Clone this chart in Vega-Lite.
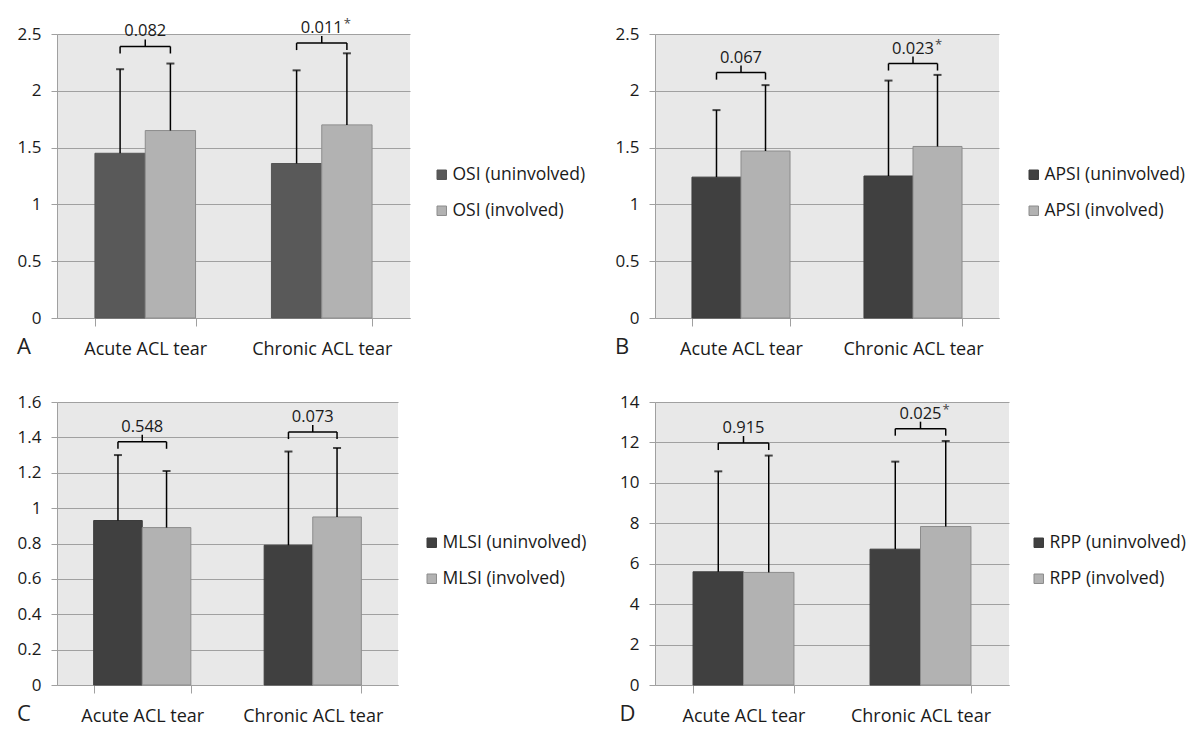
{
  "$schema": "https://vega.github.io/schema/vega-lite/v6.json",
  "background": "white",
  "padding": {"left": 17, "top": 18, "right": 0, "bottom": 2},
  "config": {
    "font": "Open Sans",
    "view": {"fill": "#e8e8e8", "stroke": null},
    "axis": {"domainColor": "#a0a0a0", "tickColor": "#a0a0a0", "labelColor": "#1a1a1a", "title": null, "domainWidth": 1},
    "axisY": {"grid": true, "gridColor": "#a0a0a0", "tickSize": 6, "labelFontSize": 17, "labelPadding": 10, "format": "~g", "tickCount": 10},
    "axisX": {"grid": false, "tickBand": "extent", "tickSize": 8, "labelFontSize": 18, "labelPadding": 14, "labelAngle": 0},
    "legend": {"orient": "none", "symbolType": "square", "symbolSize": 90, "labelFontSize": 17.5, "rowPadding": 17, "symbolStrokeColor": "#7f7f7f", "symbolStrokeWidth": 1, "labelOffset": 2, "padding": 0, "labelColor": "#1a1a1a"},
    "title": {"fontSize": 22, "fontWeight": "normal", "orient": "bottom", "anchor": "start", "frame": "bounds", "offset": -21, "dx": 0, "color": "#222222"}
  },
  "datasets": {
    "A_bars": [
      {"cat": "Acute ACL tear", "grp": "OSI (uninvolved)", "mean": 1.45, "err": 2.19, "b": 2.39},
      {"cat": "Acute ACL tear", "grp": "OSI (involved)", "mean": 1.65, "err": 2.24, "b": 2.39},
      {"cat": "Chronic ACL tear", "grp": "OSI (uninvolved)", "mean": 1.36, "err": 2.18, "b": 2.42},
      {"cat": "Chronic ACL tear", "grp": "OSI (involved)", "mean": 1.70, "err": 2.33, "b": 2.42}
    ],
    "A_p": [
      {"cat": "Acute ACL tear", "b": 2.39, "p": "0.082", "star": ""},
      {"cat": "Chronic ACL tear", "b": 2.42, "p": "0.011", "star": "*"}
    ],
    "B_bars": [
      {"cat": "Acute ACL tear", "grp": "APSI (uninvolved)", "mean": 1.24, "err": 1.83, "b": 2.16},
      {"cat": "Acute ACL tear", "grp": "APSI (involved)", "mean": 1.47, "err": 2.05, "b": 2.16},
      {"cat": "Chronic ACL tear", "grp": "APSI (uninvolved)", "mean": 1.25, "err": 2.09, "b": 2.24},
      {"cat": "Chronic ACL tear", "grp": "APSI (involved)", "mean": 1.51, "err": 2.14, "b": 2.24}
    ],
    "B_p": [
      {"cat": "Acute ACL tear", "b": 2.16, "p": "0.067", "star": ""},
      {"cat": "Chronic ACL tear", "b": 2.24, "p": "0.023", "star": "*"}
    ],
    "C_bars": [
      {"cat": "Acute ACL tear", "grp": "MLSI (uninvolved)", "mean": 0.93, "err": 1.30, "b": 1.375},
      {"cat": "Acute ACL tear", "grp": "MLSI (involved)", "mean": 0.89, "err": 1.21, "b": 1.375},
      {"cat": "Chronic ACL tear", "grp": "MLSI (uninvolved)", "mean": 0.79, "err": 1.32, "b": 1.43},
      {"cat": "Chronic ACL tear", "grp": "MLSI (involved)", "mean": 0.95, "err": 1.34, "b": 1.43}
    ],
    "C_p": [
      {"cat": "Acute ACL tear", "b": 1.375, "p": "0.548", "star": ""},
      {"cat": "Chronic ACL tear", "b": 1.43, "p": "0.073", "star": ""}
    ],
    "D_bars": [
      {"cat": "Acute ACL tear", "grp": "RPP (uninvolved)", "mean": 5.60, "err": 10.57, "b": 11.97},
      {"cat": "Acute ACL tear", "grp": "RPP (involved)", "mean": 5.57, "err": 11.35, "b": 11.97},
      {"cat": "Chronic ACL tear", "grp": "RPP (uninvolved)", "mean": 6.72, "err": 11.05, "b": 12.68},
      {"cat": "Chronic ACL tear", "grp": "RPP (involved)", "mean": 7.84, "err": 12.07, "b": 12.68}
    ],
    "D_p": [
      {"cat": "Acute ACL tear", "b": 11.97, "p": "0.915", "star": ""},
      {"cat": "Chronic ACL tear", "b": 12.68, "p": "0.025", "star": "*"}
    ]
  },
  "columns": 2,
  "spacing": {"row": 84, "column": 245},
  "bounds": "flush",
  "resolve": {"scale": {"fill": "independent", "stroke": "independent", "xOffset": "independent", "x": "independent", "y": "independent"}, "legend": {"fill": "independent", "stroke": "independent"}},
  "concat": [
    {
      "width": 353, "height": 284,
      "title": {"text": "A"},
      "layer": [
        {"data": {"name": "A_bars"}, "mark": {"type": "bar", "strokeWidth": 1},
         "encoding": {
           "x": {"field": "cat", "type": "nominal", "sort": null, "scale": {"paddingInner": 0.43, "paddingOuter": 0.215}},
           "xOffset": {"field": "grp", "type": "nominal", "sort": null, "scale": {"paddingInner": 0, "paddingOuter": 0}},
           "y": {"field": "mean", "type": "quantitative", "scale": {"domain": [0, 2.5], "nice": false}, "axis": {"values": [0, 0.5, 1, 1.5, 2, 2.5]}},
           "fill": {"field": "grp", "type": "nominal", "scale": {"domain": ["OSI (uninvolved)", "OSI (involved)"], "range": ["#595959", "#b2b2b2"]}, "legend": {"title": null, "legendX": 376, "legendY": 132}},
           "stroke": {"field": "grp", "type": "nominal", "scale": {"domain": ["OSI (uninvolved)", "OSI (involved)"], "range": ["#555555", "#8c8c8c"]}, "legend": null}
         }},
        {"data": {"name": "A_bars"}, "mark": {"type": "rule", "color": "#000000", "strokeWidth": 1.5},
         "encoding": {"x": {"field": "cat", "type": "nominal", "sort": null}, "xOffset": {"field": "grp", "type": "nominal", "sort": null}, "y": {"field": "mean", "type": "quantitative"}, "y2": {"field": "err"}}},
        {"data": {"name": "A_bars"}, "mark": {"type": "tick", "color": "#000000", "thickness": 2, "size": 8, "orient": "horizontal"},
         "encoding": {"x": {"field": "cat", "type": "nominal", "sort": null}, "xOffset": {"field": "grp", "type": "nominal", "sort": null}, "y": {"field": "err", "type": "quantitative"}}},
        {"data": {"name": "A_bars"}, "mark": {"type": "line", "color": "#000000", "strokeWidth": 1.5},
         "encoding": {"x": {"field": "cat", "type": "nominal", "sort": null}, "xOffset": {"field": "grp", "type": "nominal", "sort": null}, "y": {"field": "b", "type": "quantitative"}, "detail": {"field": "cat"}}},
        {"data": {"name": "A_bars"}, "mark": {"type": "rule", "color": "#000000", "strokeWidth": 1.5, "y2Offset": 7},
         "encoding": {"x": {"field": "cat", "type": "nominal", "sort": null}, "xOffset": {"field": "grp", "type": "nominal", "sort": null}, "y": {"field": "b", "type": "quantitative"}, "y2": {"field": "b"}}},
        {"data": {"name": "A_p"}, "mark": {"type": "rule", "color": "#000000", "strokeWidth": 1.5, "y2Offset": -7},
         "encoding": {"x": {"field": "cat", "type": "nominal", "sort": null}, "y": {"field": "b", "type": "quantitative"}, "y2": {"field": "b"}}},
        {"data": {"name": "A_p"}, "mark": {"type": "text", "fontSize": 16.5, "dy": -10, "baseline": "alphabetic", "color": "#1a1a1a"},
         "encoding": {"x": {"field": "cat", "type": "nominal", "sort": null}, "y": {"field": "b", "type": "quantitative"}, "text": {"field": "p"}}},
        {"data": {"name": "A_p"}, "mark": {"type": "text", "fontSize": 13, "dx": 22, "dy": -15, "align": "left", "baseline": "alphabetic", "color": "#444444"},
         "encoding": {"x": {"field": "cat", "type": "nominal", "sort": null}, "y": {"field": "b", "type": "quantitative"}, "text": {"field": "star"}}}
      ]
    },
    {
      "width": 344, "height": 284,
      "title": {"text": "B"},
      "layer": [
        {"data": {"name": "B_bars"}, "mark": {"type": "bar", "strokeWidth": 1},
         "encoding": {
           "x": {"field": "cat", "type": "nominal", "sort": null, "scale": {"paddingInner": 0.43, "paddingOuter": 0.215}},
           "xOffset": {"field": "grp", "type": "nominal", "sort": null, "scale": {"paddingInner": 0, "paddingOuter": 0}},
           "y": {"field": "mean", "type": "quantitative", "scale": {"domain": [0, 2.5], "nice": false}, "axis": {"values": [0, 0.5, 1, 1.5, 2, 2.5]}},
           "fill": {"field": "grp", "type": "nominal", "scale": {"domain": ["APSI (uninvolved)", "APSI (involved)"], "range": ["#404040", "#b2b2b2"]}, "legend": {"title": null, "legendX": 370, "legendY": 132}},
           "stroke": {"field": "grp", "type": "nominal", "scale": {"domain": ["APSI (uninvolved)", "APSI (involved)"], "range": ["#3c3c3c", "#8c8c8c"]}, "legend": null}
         }},
        {"data": {"name": "B_bars"}, "mark": {"type": "rule", "color": "#000000", "strokeWidth": 1.5},
         "encoding": {"x": {"field": "cat", "type": "nominal", "sort": null}, "xOffset": {"field": "grp", "type": "nominal", "sort": null}, "y": {"field": "mean", "type": "quantitative"}, "y2": {"field": "err"}}},
        {"data": {"name": "B_bars"}, "mark": {"type": "tick", "color": "#000000", "thickness": 2, "size": 8, "orient": "horizontal"},
         "encoding": {"x": {"field": "cat", "type": "nominal", "sort": null}, "xOffset": {"field": "grp", "type": "nominal", "sort": null}, "y": {"field": "err", "type": "quantitative"}}},
        {"data": {"name": "B_bars"}, "mark": {"type": "line", "color": "#000000", "strokeWidth": 1.5},
         "encoding": {"x": {"field": "cat", "type": "nominal", "sort": null}, "xOffset": {"field": "grp", "type": "nominal", "sort": null}, "y": {"field": "b", "type": "quantitative"}, "detail": {"field": "cat"}}},
        {"data": {"name": "B_bars"}, "mark": {"type": "rule", "color": "#000000", "strokeWidth": 1.5, "y2Offset": 7},
         "encoding": {"x": {"field": "cat", "type": "nominal", "sort": null}, "xOffset": {"field": "grp", "type": "nominal", "sort": null}, "y": {"field": "b", "type": "quantitative"}, "y2": {"field": "b"}}},
        {"data": {"name": "B_p"}, "mark": {"type": "rule", "color": "#000000", "strokeWidth": 1.5, "y2Offset": -7},
         "encoding": {"x": {"field": "cat", "type": "nominal", "sort": null}, "y": {"field": "b", "type": "quantitative"}, "y2": {"field": "b"}}},
        {"data": {"name": "B_p"}, "mark": {"type": "text", "fontSize": 16.5, "dy": -10, "baseline": "alphabetic", "color": "#1a1a1a"},
         "encoding": {"x": {"field": "cat", "type": "nominal", "sort": null}, "y": {"field": "b", "type": "quantitative"}, "text": {"field": "p"}}},
        {"data": {"name": "B_p"}, "mark": {"type": "text", "fontSize": 13, "dx": 22, "dy": -15, "align": "left", "baseline": "alphabetic", "color": "#444444"},
         "encoding": {"x": {"field": "cat", "type": "nominal", "sort": null}, "y": {"field": "b", "type": "quantitative"}, "text": {"field": "star"}}}
      ]
    },
    {
      "width": 341, "height": 283,
      "title": {"text": "C"},
      "layer": [
        {"data": {"name": "C_bars"}, "mark": {"type": "bar", "strokeWidth": 1},
         "encoding": {
           "x": {"field": "cat", "type": "nominal", "sort": null, "scale": {"paddingInner": 0.43, "paddingOuter": 0.215}},
           "xOffset": {"field": "grp", "type": "nominal", "sort": null, "scale": {"paddingInner": 0, "paddingOuter": 0}},
           "y": {"field": "mean", "type": "quantitative", "scale": {"domain": [0, 1.6], "nice": false}, "axis": {"values": [0, 0.2, 0.4, 0.6, 0.8, 1, 1.2, 1.4, 1.6], "tickCount": 12}},
           "fill": {"field": "grp", "type": "nominal", "scale": {"domain": ["MLSI (uninvolved)", "MLSI (involved)"], "range": ["#404040", "#b2b2b2"]}, "legend": {"title": null, "legendX": 366, "legendY": 132}},
           "stroke": {"field": "grp", "type": "nominal", "scale": {"domain": ["MLSI (uninvolved)", "MLSI (involved)"], "range": ["#3c3c3c", "#8c8c8c"]}, "legend": null}
         }},
        {"data": {"name": "C_bars"}, "mark": {"type": "rule", "color": "#000000", "strokeWidth": 1.5},
         "encoding": {"x": {"field": "cat", "type": "nominal", "sort": null}, "xOffset": {"field": "grp", "type": "nominal", "sort": null}, "y": {"field": "mean", "type": "quantitative"}, "y2": {"field": "err"}}},
        {"data": {"name": "C_bars"}, "mark": {"type": "tick", "color": "#000000", "thickness": 2, "size": 8, "orient": "horizontal"},
         "encoding": {"x": {"field": "cat", "type": "nominal", "sort": null}, "xOffset": {"field": "grp", "type": "nominal", "sort": null}, "y": {"field": "err", "type": "quantitative"}}},
        {"data": {"name": "C_bars"}, "mark": {"type": "line", "color": "#000000", "strokeWidth": 1.5},
         "encoding": {"x": {"field": "cat", "type": "nominal", "sort": null}, "xOffset": {"field": "grp", "type": "nominal", "sort": null}, "y": {"field": "b", "type": "quantitative"}, "detail": {"field": "cat"}}},
        {"data": {"name": "C_bars"}, "mark": {"type": "rule", "color": "#000000", "strokeWidth": 1.5, "y2Offset": 7},
         "encoding": {"x": {"field": "cat", "type": "nominal", "sort": null}, "xOffset": {"field": "grp", "type": "nominal", "sort": null}, "y": {"field": "b", "type": "quantitative"}, "y2": {"field": "b"}}},
        {"data": {"name": "C_p"}, "mark": {"type": "rule", "color": "#000000", "strokeWidth": 1.5, "y2Offset": -7},
         "encoding": {"x": {"field": "cat", "type": "nominal", "sort": null}, "y": {"field": "b", "type": "quantitative"}, "y2": {"field": "b"}}},
        {"data": {"name": "C_p"}, "mark": {"type": "text", "fontSize": 16.5, "dy": -10, "baseline": "alphabetic", "color": "#1a1a1a"},
         "encoding": {"x": {"field": "cat", "type": "nominal", "sort": null}, "y": {"field": "b", "type": "quantitative"}, "text": {"field": "p"}}}
      ]
    },
    {
      "width": 354, "height": 283,
      "title": {"text": "D"},
      "layer": [
        {"data": {"name": "D_bars"}, "mark": {"type": "bar", "strokeWidth": 1},
         "encoding": {
           "x": {"field": "cat", "type": "nominal", "sort": null, "scale": {"paddingInner": 0.43, "paddingOuter": 0.215}},
           "xOffset": {"field": "grp", "type": "nominal", "sort": null, "scale": {"paddingInner": 0, "paddingOuter": 0}},
           "y": {"field": "mean", "type": "quantitative", "scale": {"domain": [0, 14], "nice": false}, "axis": {"values": [0, 2, 4, 6, 8, 10, 12, 14]}},
           "fill": {"field": "grp", "type": "nominal", "scale": {"domain": ["RPP (uninvolved)", "RPP (involved)"], "range": ["#404040", "#b2b2b2"]}, "legend": {"title": null, "legendX": 375, "legendY": 132}},
           "stroke": {"field": "grp", "type": "nominal", "scale": {"domain": ["RPP (uninvolved)", "RPP (involved)"], "range": ["#3c3c3c", "#8c8c8c"]}, "legend": null}
         }},
        {"data": {"name": "D_bars"}, "mark": {"type": "rule", "color": "#000000", "strokeWidth": 1.5},
         "encoding": {"x": {"field": "cat", "type": "nominal", "sort": null}, "xOffset": {"field": "grp", "type": "nominal", "sort": null}, "y": {"field": "mean", "type": "quantitative"}, "y2": {"field": "err"}}},
        {"data": {"name": "D_bars"}, "mark": {"type": "tick", "color": "#000000", "thickness": 2, "size": 8, "orient": "horizontal"},
         "encoding": {"x": {"field": "cat", "type": "nominal", "sort": null}, "xOffset": {"field": "grp", "type": "nominal", "sort": null}, "y": {"field": "err", "type": "quantitative"}}},
        {"data": {"name": "D_bars"}, "mark": {"type": "line", "color": "#000000", "strokeWidth": 1.5},
         "encoding": {"x": {"field": "cat", "type": "nominal", "sort": null}, "xOffset": {"field": "grp", "type": "nominal", "sort": null}, "y": {"field": "b", "type": "quantitative"}, "detail": {"field": "cat"}}},
        {"data": {"name": "D_bars"}, "mark": {"type": "rule", "color": "#000000", "strokeWidth": 1.5, "y2Offset": 7},
         "encoding": {"x": {"field": "cat", "type": "nominal", "sort": null}, "xOffset": {"field": "grp", "type": "nominal", "sort": null}, "y": {"field": "b", "type": "quantitative"}, "y2": {"field": "b"}}},
        {"data": {"name": "D_p"}, "mark": {"type": "rule", "color": "#000000", "strokeWidth": 1.5, "y2Offset": -7},
         "encoding": {"x": {"field": "cat", "type": "nominal", "sort": null}, "y": {"field": "b", "type": "quantitative"}, "y2": {"field": "b"}}},
        {"data": {"name": "D_p"}, "mark": {"type": "text", "fontSize": 16.5, "dy": -10, "baseline": "alphabetic", "color": "#1a1a1a"},
         "encoding": {"x": {"field": "cat", "type": "nominal", "sort": null}, "y": {"field": "b", "type": "quantitative"}, "text": {"field": "p"}}},
        {"data": {"name": "D_p"}, "mark": {"type": "text", "fontSize": 13, "dx": 22, "dy": -15, "align": "left", "baseline": "alphabetic", "color": "#444444"},
         "encoding": {"x": {"field": "cat", "type": "nominal", "sort": null}, "y": {"field": "b", "type": "quantitative"}, "text": {"field": "star"}}}
      ]
    }
  ]
}
